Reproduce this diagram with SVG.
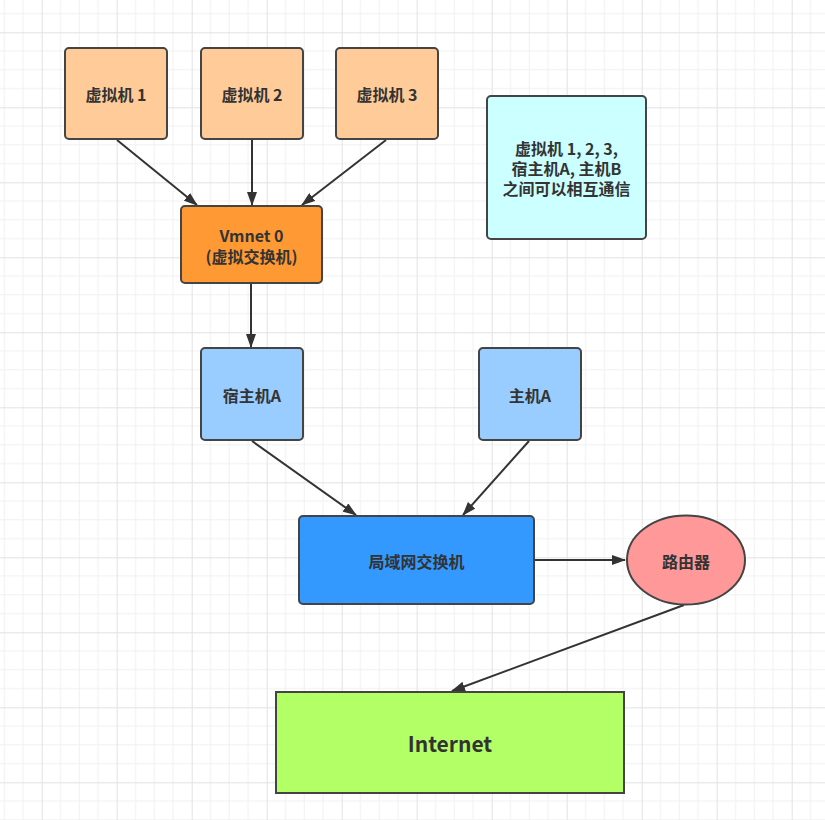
<svg xmlns="http://www.w3.org/2000/svg" width="825" height="820" viewBox="0 0 825 820">
  <defs>
    <pattern id="grid" patternUnits="userSpaceOnUse" x="41.7" y="32.3" width="75" height="75">
      <path d="M18.75 0V75M37.5 0V75M56.25 0V75M0 18.75H75M0 37.5H75M0 56.25H75" stroke="#f0f0f0" stroke-width="1" fill="none"/>
      <path d="M0.5 0V75M0 0.5H75" stroke="#e2e2e2" stroke-width="1" fill="none"/>
    </pattern>
    <marker id="arrow" viewBox="0 0 14 10" refX="13" refY="5" markerWidth="14" markerHeight="10" markerUnits="userSpaceOnUse" orient="auto">
      <path d="M0 0L14 5L0 10z" fill="#333333"/>
    </marker>
  </defs>
  <style>
    .node { stroke: #444444; stroke-width: 2; }
    .lbl { font-family: "Noto Sans CJK SC", "Liberation Sans", sans-serif; font-weight: bold; font-size: 16px; fill: #333333; text-anchor: middle; dominant-baseline: central; }
    .edge { stroke: #333333; stroke-width: 2; fill: none; marker-end: url(#arrow); }
  </style>
  <rect width="825" height="820" fill="#ffffff"/>
  <rect width="825" height="820" fill="url(#grid)"/>

  <g id="connectors">
    <line class="edge" x1="117" y1="140" x2="197" y2="205"/>
    <line class="edge" x1="252" y1="140" x2="252" y2="205"/>
    <line class="edge" x1="386" y1="140" x2="302" y2="205"/>
    <line class="edge" x1="251" y1="284" x2="251" y2="347"/>
    <line class="edge" x1="252" y1="441" x2="356" y2="515"/>
    <line class="edge" x1="529" y1="441" x2="463" y2="515"/>
    <line class="edge" x1="535" y1="560" x2="625" y2="560"/>
    <line class="edge" x1="684" y1="605" x2="452" y2="691"/>
  </g>

  <g id="vm1">
    <rect class="node" x="65" y="48" width="102" height="91" rx="4" fill="#ffcc99"/>
    <text class="lbl" x="116" y="94">虚拟机 1</text>
  </g>
  <g id="vm2">
    <rect class="node" x="201" y="48" width="102" height="91" rx="4" fill="#ffcc99"/>
    <text class="lbl" x="252" y="94">虚拟机 2</text>
  </g>
  <g id="vm3">
    <rect class="node" x="336" y="48" width="102" height="91" rx="4" fill="#ffcc99"/>
    <text class="lbl" x="387" y="94">虚拟机 3</text>
  </g>
  <g id="vmnet0">
    <rect class="node" x="181" y="206" width="141" height="77" rx="4" fill="#ff9933"/>
    <text class="lbl" x="251.5" y="235">Vmnet 0</text>
    <text class="lbl" x="251.5" y="256">(虚拟交换机)</text>
  </g>
  <g id="note">
    <rect class="node" x="487" y="96" width="159" height="143" rx="4" fill="#ccffff"/>
    <text class="lbl" x="566.5" y="148">虚拟机 1, 2, 3,</text>
    <text class="lbl" x="566.5" y="168">宿主机A, 主机B</text>
    <text class="lbl" x="566.5" y="188">之间可以相互通信</text>
  </g>
  <g id="hostA">
    <rect class="node" x="201" y="348" width="102" height="92" rx="4" fill="#99ccff"/>
    <text class="lbl" x="252" y="395">宿主机A</text>
  </g>
  <g id="mainA">
    <rect class="node" x="479" y="348" width="102" height="92" rx="4" fill="#99ccff"/>
    <text class="lbl" x="530" y="395">主机A</text>
  </g>
  <g id="lanSwitch">
    <rect class="node" x="299" y="516" width="235" height="88" rx="4" fill="#3399ff"/>
    <text class="lbl" x="416.5" y="561">局域网交换机</text>
  </g>
  <g id="router">
    <ellipse class="node" cx="686" cy="560" rx="59" ry="44.5" fill="#ff9999"/>
    <text class="lbl" x="686" y="561">路由器</text>
  </g>
  <g id="internet">
    <rect class="node" x="276" y="692" width="348" height="101" fill="#b3ff66"/>
    <text class="lbl" x="450" y="743" style="font-size:21px">Internet</text>
  </g>
</svg>
